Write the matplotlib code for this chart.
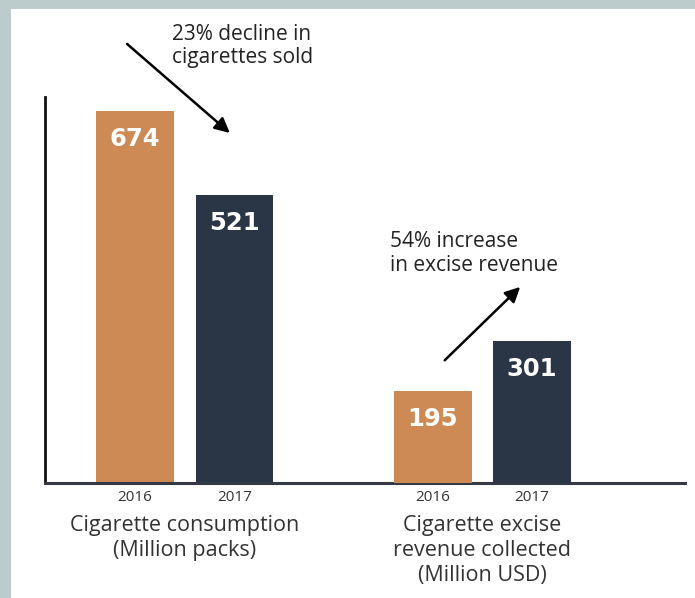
import matplotlib.pyplot as plt
from matplotlib.patches import Rectangle
from matplotlib.transforms import blended_transform_factory

plt.rcParams['font.family'] = ['Open Sans', 'DejaVu Sans']

# data
years = ['2016', '2017']
consumption = [674, 521]      # million packs
revenue = [195, 301]          # million USD
groups = ['Cigarette consumption\n(Million packs)',
          'Cigarette excise\nrevenue collected\n(Million USD)']

orange = '#cd8a54'
navy = '#2a3545'
colors = [orange, navy]

fig = plt.figure(figsize=(6.95, 5.98), dpi=100)
fig.patch.set_facecolor('white')
# grey frame of the screenshot (top and left)
fig.patches.append(Rectangle((0, 1 - 9 / 598), 1, 9 / 598, transform=fig.transFigure,
                             facecolor='#bccbcb', edgecolor='none', zorder=0))
fig.patches.append(Rectangle((0, 0), 11 / 695, 1, transform=fig.transFigure,
                             facecolor='#bccbcb', edgecolor='none', zorder=0))

ax = fig.add_axes([45 / 695, 1 - 483 / 598, 640 / 695, 386 / 598])
ax2 = ax.twinx()

x1 = [0, 1]
x2 = [3, 4]
w = 0.78
ax.bar(x1, consumption, width=w, color=colors)
ax2.bar(x2, revenue, width=w, color=colors)

ax.set_ylim(0, 699)
ax2.set_ylim(0, 820)
ax.set_xlim(-0.906, 5.54)

for a, xs, vals in [(ax, x1, consumption), (ax2, x2, revenue)]:
    for x, v in zip(xs, vals):
        a.annotate(str(v), (x, v), xytext=(0, -20), textcoords='offset points',
                   ha='center', va='center', color='white', fontsize=17.5,
                   fontweight='bold', family='DejaVu Sans')

for a in (ax, ax2):
    for s in ['top', 'right']:
        a.spines[s].set_visible(False)
    a.set_yticks([])
ax2.spines['left'].set_visible(False)
ax2.spines['bottom'].set_visible(False)
ax.spines['left'].set_color('#111111')
ax.spines['left'].set_linewidth(2)
ax.spines['bottom'].set_color('#333a44')
ax.spines['bottom'].set_linewidth(2.2)

ax.set_xticks(x1 + x2)
ax.set_xticklabels(years * 2, fontsize=11, color='#333333')
ax.tick_params(axis='x', length=0, pad=5)

tr = blended_transform_factory(ax.transData, ax.transAxes)
for gx, label in zip([0.5, 3.5], groups):
    ax.text(gx, -0.082, label, transform=tr, ha='center', va='top',
            fontsize=15.5, color='#333333', linespacing=1.25)

# annotations with arrows
arrow = dict(arrowstyle='-|>,head_length=0.9,head_width=0.45', color='black', lw=1.8)
ax.annotate('', xy=(0.977, 0.902), xytext=(-0.10, 1.142),
            xycoords=('data', 'axes fraction'), textcoords=('data', 'axes fraction'),
            arrowprops=arrow, annotation_clip=False)
ax.text(0.373, 1.19, '23% decline in\ncigarettes sold', transform=tr,
        ha='left', va='top', fontsize=15, color='#222222', linespacing=1.15)

ax.annotate('', xy=(3.90, 0.513), xytext=(3.10, 0.313),
            xycoords=('data', 'axes fraction'), textcoords=('data', 'axes fraction'),
            arrowprops=arrow, annotation_clip=False)
ax.text(2.57, 0.652, '54% increase\nin excise revenue', transform=tr,
        ha='left', va='top', fontsize=15, color='#222222', linespacing=1.15)

fig.savefig('out.png', dpi=100)
